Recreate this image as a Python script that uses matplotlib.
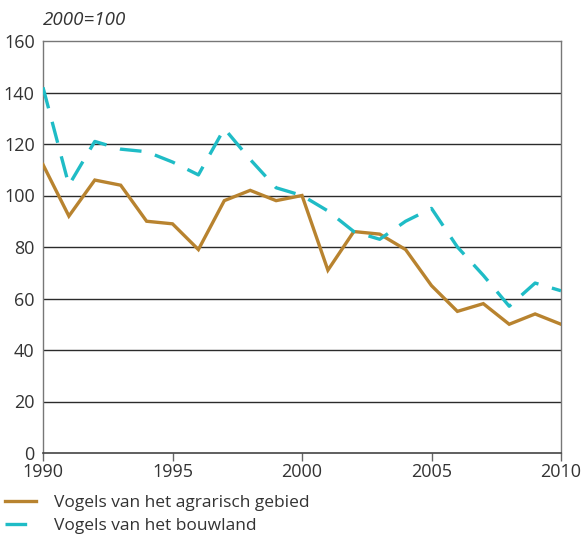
import matplotlib
matplotlib.use("Agg")
import matplotlib.pyplot as plt
from matplotlib.lines import Line2D

years = list(range(1990, 2011))
agrarisch = [112, 92, 106, 104, 90, 89, 79, 98, 102, 98, 100, 71, 86, 85, 79, 65, 55, 58, 50, 54, 50]
bouwland = [142, 104, 121, 118, 117, 113, 108, 126, 114, 103, 100, 94, 86, 83, 90, 95, 80, 69, 57, 66, 63]
yticks = [0, 20, 40, 60, 80, 100, 120, 140, 160]
xticks = [1990, 1995, 2000, 2005, 2010]
labels = ["Vogels van het agrarisch gebied", "Vogels van het bouwland"]

brown = "#B8832F"
cyan = "#1FBCC6"
textc = "#333333"

plt.rcParams['font.family'] = ['Open Sans', 'DejaVu Sans']

W, H = 582, 537
fig = plt.figure(figsize=(W / 100, H / 100), dpi=100)
ax = fig.add_axes([43 / W, 1 - 453 / H, (561 - 43) / W, (453 - 41) / H])

for v in yticks[1:-1]:
    ax.axhline(v, color="#2b2b2b", lw=1.0, zorder=1)

ax.plot(years, agrarisch, color=brown, lw=2.4, zorder=3, solid_joinstyle="miter")
ax.plot(years, bouwland, color=cyan, lw=2.4, zorder=3, dashes=(6.5, 4.2))

ax.set_xlim(1990, 2010)
ax.set_ylim(0, 160)
ax.set_yticks(yticks)
ax.set_xticks(xticks)
ax.tick_params(axis="y", length=0, labelsize=13, labelcolor=textc, pad=6)
ax.tick_params(axis="x", length=6, width=1, color="#666666", labelsize=13, labelcolor=textc, pad=1)
for s in ["top", "right", "left"]:
    ax.spines[s].set_color("#777777")
    ax.spines[s].set_linewidth(1.0)
ax.spines["bottom"].set_color("#444444")
ax.spines["bottom"].set_linewidth(1.2)

fig.text(43 / W, 1 - 20 / H, "2000=100", fontsize=13.5, style="italic", color=textc,
         ha="left", va="center")

handles = [Line2D([0], [0], color=brown, lw=2.4),
           Line2D([0], [0], color=cyan, lw=2.4, dashes=(6.5, 4.2))]
fig.legend(handles, labels, loc="upper left", bbox_to_anchor=(3 / W, 1 - 493 / H),
           frameon=False, fontsize=12.5, labelcolor=textc, handlelength=1.8,
           handletextpad=1.05, labelspacing=0.38, borderaxespad=0, borderpad=0.1)

fig.savefig("out.png", dpi=100)
